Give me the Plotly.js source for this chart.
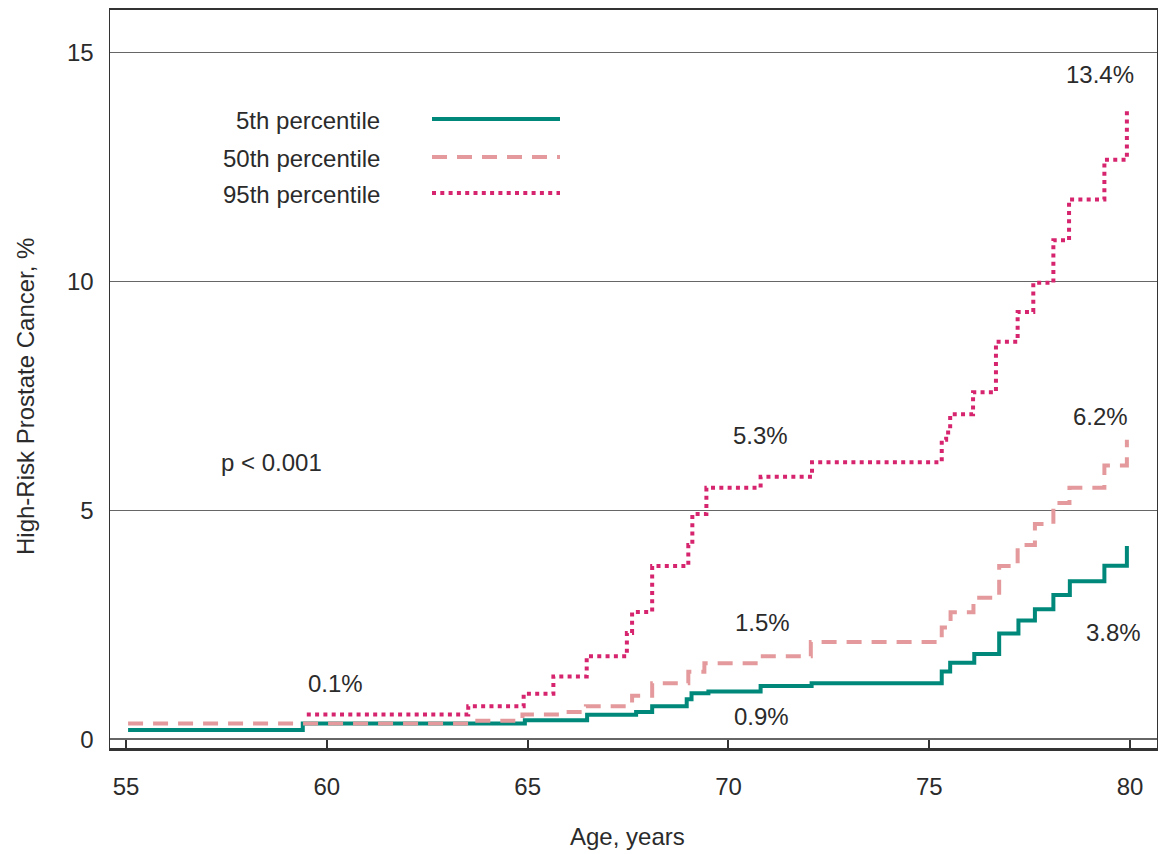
<!DOCTYPE html>
<html>
<head>
<meta charset="utf-8">
<script src="https://cdn.plot.ly/plotly-3.0.1.min.js"></script>
<style>html,body{margin:0;padding:0;background:#fff;}#chart{width:1158px;height:854px;}</style>
</head>
<body>
<div id="chart"></div>
<script>
// Step-curve data (age in years, cumulative %)
const age5  = [55.05, 59.4, 64.93, 66.48, 67.7, 68.1, 68.96, 69.08, 69.5, 70.8, 72.07, 75.31, 75.52, 76.12, 76.74, 77.22, 77.63, 78.09, 78.5, 79.36, 79.92];
const val5  = [0.20, 0.34, 0.41, 0.53, 0.59, 0.72, 0.87, 1.00, 1.04, 1.16, 1.22, 1.48, 1.67, 1.86, 2.31, 2.59, 2.84, 3.15, 3.45, 3.79, 4.22];

const age50 = [55.05, 63.52, 64.87, 65.9, 66.45, 67.6, 68.1, 69.0, 69.4, 70.75, 72.05, 75.31, 75.53, 76.10, 76.74, 77.20, 77.63, 78.09, 78.49, 79.36, 79.92];
const val50 = [0.34, 0.40, 0.54, 0.59, 0.72, 0.95, 1.22, 1.47, 1.66, 1.81, 2.12, 2.44, 2.77, 3.09, 3.78, 4.24, 4.70, 5.16, 5.49, 5.98, 6.54];

const age95 = [59.5, 63.52, 64.9, 65.64, 66.47, 67.47, 67.6, 68.1, 69.0, 69.1, 69.45, 70.8, 72.08, 75.31, 75.42, 75.52, 76.09, 76.66, 77.20, 77.59, 78.09, 78.48, 79.36, 79.92];
const val95 = [0.54, 0.72, 0.99, 1.37, 1.81, 2.32, 2.78, 3.78, 4.24, 4.92, 5.49, 5.73, 6.05, 6.54, 6.70, 7.10, 7.58, 8.68, 9.33, 9.97, 10.90, 11.79, 12.66, 13.72];

const seriesNames = ["5th percentile", "50th percentile", "95th percentile"];
const xTicks = [55, 60, 65, 70, 75, 80];
const yTicks = [0, 5, 10, 15];
const endLabels = ["0.1%", "0.9%", "1.5%", "5.3%", "3.8%", "6.2%", "13.4%"];
const pValueText = "p < 0.001";

const FONT = "Liberation Sans, Arial, sans-serif";
const TXT = "#2b2b2b";
const C5 = "#00897B", C50 = "#E49A9C", C95 = "#D6246E";
const styles = [
  {color: C5, width: 4, dash: "solid"},
  {color: C50, width: 4, dash: "15px,10px"},
  {color: C95, width: 4, dash: "4px,4.3px"}
];

const data = [
  {x: age5, y: val5, name: seriesNames[0]},
  {x: age50, y: val50, name: seriesNames[1]},
  {x: age95, y: val95, name: seriesNames[2]}
].map((t, i) => Object.assign(t, {
  type: "scatter", mode: "lines",
  line: {shape: "hv", color: styles[i].color, width: styles[i].width, dash: styles[i].dash},
  hoverinfo: "x+y+name", showlegend: false
}));

// helper: pixel -> paper
const L = 110, R = 1157, T = 10, B = 748;
const px = v => (v - L) / (R - L);
const py = v => (B - v) / (B - T);

const ann = (text, x, y, opts) => Object.assign({
  text, x: px(x), y: py(y), xref: "paper", yref: "paper",
  showarrow: false, xanchor: "center", yanchor: "middle",
  font: {family: FONT, size: 24, color: TXT}
}, opts || {});

const annotations = [
  ann(endLabels[0], 335, 683),
  ann(endLabels[1], 761, 716),
  ann(endLabels[2], 762, 622),
  ann(endLabels[3], 760, 435),
  ann(endLabels[4], 1113, 632),
  ann(endLabels[5], 1100, 416),
  ann(endLabels[6], 1100, 74),
  ann(pValueText, 271, 462),
  ann(seriesNames[0], 382, 121, {xanchor: "right"}),
  ann(seriesNames[1], 382, 158, {xanchor: "right"}),
  ann(seriesNames[2], 382, 195, {xanchor: "right"}),
  ann("Age, years", 627, 836),
  ann("High-Risk Prostate Cancer, %", 25, 397, {textangle: -90})
];

const legendRows = [119, 157, 193];
const shapes = legendRows.map((yy, i) => ({
  type: "line", xref: "paper", yref: "paper",
  x0: px(432), x1: px(560), y0: py(yy), y1: py(yy),
  line: {color: styles[i].color, width: styles[i].width, dash: styles[i].dash}
}));

const layout = {
  width: 1158, height: 854,
  margin: {l: L, r: 1158 - R, t: T, b: 854 - B, pad: 0},
  paper_bgcolor: "#ffffff", plot_bgcolor: "#ffffff",
  font: {family: FONT, size: 24, color: TXT},
  showlegend: false,
  xaxis: {
    range: [54.6, 80.67], tickvals: xTicks, ticktext: xTicks.map(String),
    ticks: "inside", ticklen: 8, tickwidth: 2, tickcolor: "#333",
    showgrid: false, zeroline: false,
    showline: true, linecolor: "#333", linewidth: 2.5, mirror: true,
    ticklabelstandoff: 16,
    tickfont: {family: FONT, size: 24, color: TXT}
  },
  yaxis: {
    range: [-0.194, 15.93], tickvals: yTicks, ticktext: yTicks.map(String),
    ticks: "", showgrid: true, gridcolor: "#666", gridwidth: 1.3,
    zeroline: false,
    showline: true, linecolor: "#333", linewidth: 1.5, mirror: true,
    ticklabelstandoff: 10,
    tickfont: {family: FONT, size: 24, color: TXT}
  },
  annotations, shapes
};

Plotly.newPlot("chart", data, layout, {displayModeBar: false, staticPlot: true});
</script>
</body>
</html>
